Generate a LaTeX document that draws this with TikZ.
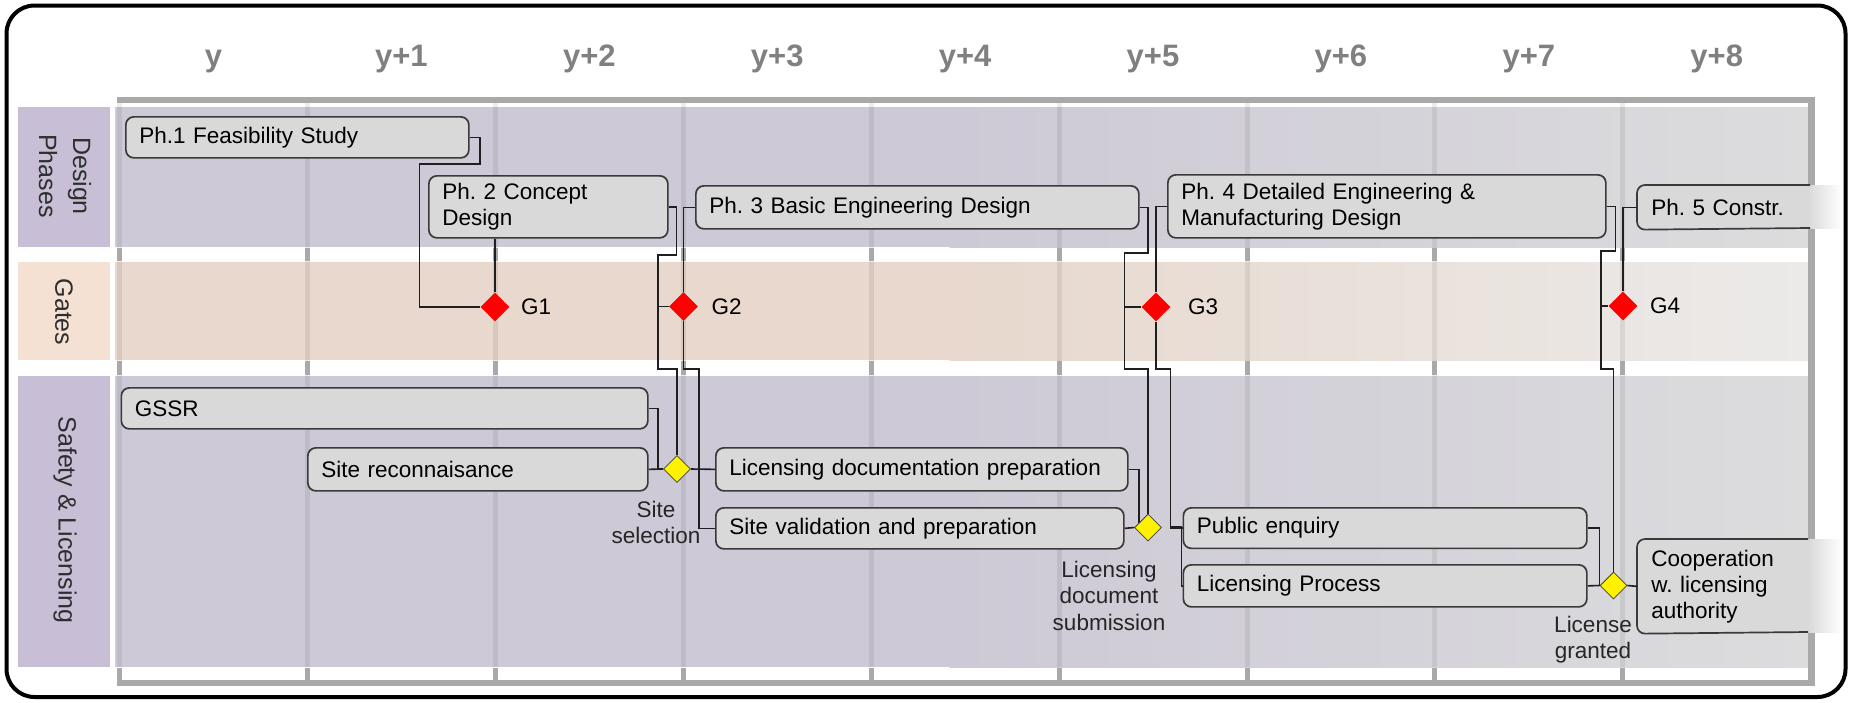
\documentclass[tikz,border=0pt]{standalone}
\usepackage{fontspec}
\setmainfont{Liberation Sans}
\usetikzlibrary{shapes.geometric,calc}
\definecolor{boxfill}{HTML}{D9D9D9}
\definecolor{boxline}{HTML}{3A3A3A}
\definecolor{laneP}{HTML}{CDC9D6}
\definecolor{lanePR}{HTML}{DCDCDD}
\definecolor{laneG}{HTML}{E8D8CD}
\definecolor{laneGR}{HTML}{EBEAE9}
\definecolor{cellP}{HTML}{C8BED6}
\definecolor{cellG}{HTML}{F5E1D3}
\definecolor{gridgray}{HTML}{A9A9A9}
\definecolor{yeargray}{HTML}{808080}
\definecolor{labeltext}{HTML}{2E2E2E}
\pgfdeclarelayer{lanes}
\pgfdeclarelayer{edges}
\pgfsetlayers{lanes,edges,main}
\frenchspacing
\begin{document}
\frenchspacing
\begin{tikzpicture}[x=1pt,y=-1pt,
  box/.style={draw=boxline, line width=1.7pt, fill=boxfill, rounded corners=8pt,
    inner xsep=13.5pt, inner ysep=0pt, align=left, anchor=north west,
    font=\fontsize{22.5}{26}\selectfont},
  fadebox/.style={box, draw=none, fill=none},
  gate/.style={shape=diamond, fill=red, draw=none, minimum width=29pt, minimum height=29pt, inner sep=0pt},
  mile/.style={shape=diamond, fill=yellow, draw=black!75, line width=0.8pt, minimum width=27pt, minimum height=27pt, inner sep=0pt},
  gatelabel/.style={anchor=west, inner sep=0pt, font=\fontsize{22.5}{26}\selectfont},
  milelabel/.style={anchor=north, inner sep=0pt, align=center, font=\fontsize{22.5}{26.5}\selectfont, text=black!85},
  year/.style={anchor=base, inner sep=0pt, font=\fontsize{31}{36}\selectfont\bfseries, text=yeargray},
  lanelabel/.style={rotate=-90, inner sep=0pt, align=center, font=\fontsize{25}{34}\selectfont, text=labeltext},
  conn/.style={draw=black!88, line width=1.6pt},
  colline/.style={draw=black, draw opacity=0.07, line width=5pt},
  tick/.style={draw=gridgray, line width=5pt},
  bar/.style={fill=gridgray}
]
\useasboundingbox (0,0) rectangle (1852,702);

% ---------- background lanes and grid ----------
\begin{pgfonlayer}{lanes}
\fill[cellP] (18,107) rectangle (110,247);
\fill[cellG] (18,262) rectangle (110,360);
\fill[cellP] (18,376) rectangle (110,667);
\fill[laneP] (115,107) rectangle (950,247);
\shade[left color=laneP, right color=lanePR] (949.5,107) rectangle (1811,247);
\fill[laneG] (115,262) rectangle (950,360);
\shade[left color=laneG, right color=laneGR] (949.5,262) rectangle (1811,360);
\fill[laneP] (115,376) rectangle (950,667);
\shade[left color=laneP, right color=lanePR] (949.5,376) rectangle (1811,667);
\foreach \i in {0,...,8} {
  \pgfmathsetmacro\cx{119.6+187.9*\i}
  \draw[colline] (\cx,103) -- (\cx,667);
  \draw[tick] (\cx,248) -- (\cx,261);
  \draw[tick] (\cx,361) -- (\cx,375);
  \draw[tick] (\cx,668) -- (\cx,683);
}
\fill[bar] (117,97) rectangle (1815,103);
\fill[bar] (117,680) rectangle (1815,686);
\fill[bar] (1808,97) rectangle (1815,686);
\end{pgfonlayer}

% ---------- frame ----------
\draw[line width=4pt, rounded corners=28pt] (6.5,5.5) rectangle (1845.5,697);

% ---------- year labels ----------
\foreach \t [count=\i from 0] in {y,y+1,y+2,y+3,y+4,y+5,y+6,y+7,y+8} {
  \node[year] (yr\i) at ({213.5+187.9*\i},66) {\t};
}

% ---------- lane labels ----------
\node[lanelabel] (ll1) at (65,176) {Design\\Phases};
\node[lanelabel] (ll2) at (64,312) {Gates};
\node[lanelabel] (ll3) at (65,520) {Safety \& Licensing};

% ---------- boxes ----------
\node[box, text width=316pt, minimum height=41pt] (ph1) at (125,116) {Ph.1 Feasibility Study};
\node[box, text width=212pt, minimum height=62pt] (ph2) at (428,175) {Ph. 2 Concept\\Design};
\node[box, text width=416pt, minimum height=43pt] (ph3) at (695,185) {Ph. 3 Basic Engineering Design};
\node[box, text width=411pt, minimum height=63pt] (ph4) at (1167,174) {Ph. 4 Detailed Engineering \&\\Manufacturing Design};
\node[fadebox, text width=178pt, minimum height=43pt] (ph5) at (1637,185) {Ph. 5 Constr.};
\node[box, text width=499.5pt, minimum height=41pt] (gssr) at (120.5,387) {GSSR};
\node[box, text width=313pt, minimum height=43pt] (sr) at (307,447) {Site reconnaisance};
\node[box, text width=385pt, minimum height=43pt] (ldp) at (715,447) {Licensing documentation preparation};
\node[box, text width=381pt, minimum height=41pt] (sv) at (715,507) {Site validation and preparation};
\node[box, text width=376.5pt, minimum height=40.5pt] (pe) at (1182.5,507) {Public enquiry};
\node[box, text width=376.5pt, minimum height=42pt] (lp) at (1182.5,564) {Licensing Process};
\node[fadebox, text width=178pt, minimum height=93pt] (coop) at (1637,539) {Cooperation\\w. licensing\\authority};

% ---------- gates and milestones ----------
\node[gate] (g1) at (495,307) {};
\node[gate] (g2) at (683.5,306.5) {};
\node[gate] (g3) at (1156,307) {};
\node[gate] (g4) at (1623,306) {};
\node[gatelabel] (g1l) at (521,307) {G1};
\node[gatelabel] (g2l) at (711.5,307) {G2};
\node[gatelabel] (g3l) at (1188,307) {G3};
\node[gatelabel] (g4l) at (1650,306) {G4};
\node[mile] (ss) at (677,469) {};
\node[mile] (lds) at (1148,527.5) {};
\node[mile] (lg) at (1613.5,585.5) {};
\node[milelabel] (ssl) at (656,500.5) {Site\\selection};
\node[milelabel] (ldsl) at (1109,560.5) {Licensing\\document\\submission};
\node[milelabel] (lgl) at (1593,615.5) {License\\granted};

% ---------- faded boxes and connectors ----------
\begin{pgfonlayer}{edges}
\fill[boxfill, rounded corners=8pt] (ph5.north west) rectangle (1825,228);
\shade[left color=boxfill, right color=white] (1808,185) rectangle (1842,228);
\draw[boxline, line width=1.7pt, rounded corners=8pt] (1810,185) -- (ph5.north west) -- (ph5.south west) -- (1810,228);
\fill[boxfill, rounded corners=8pt] (coop.north west) rectangle (1825,632);
\shade[left color=boxfill, right color=white] (1808,539) rectangle (1842,632);
\draw[boxline, line width=1.7pt, rounded corners=8pt] (1808,539) -- (coop.north west) -- (coop.south west) -- (1808,632);

\draw[conn] (ph1.east) -| (480,164) -- (419.5,164) |- (g1.west);
\draw[conn] (ph2.south -| g1) -- (g1.north);
\draw[conn] (ph2.east) -| (676.5,255) -- (658,255) |- (g2.west);
\draw[conn] (ph2.east) -| (676.5,255) -- (658,255) -- (658,369) -| (ss.north);
\draw[conn] (g2.north) |- (ph3.west);
\draw[conn] (g2.south) -- (683.5,369) -- (699,369) |- (sv.west);
\draw[conn] (gssr.east) -| (658,469) -- (ss.west);
\draw[conn] (sr.east) -- (ss.west);
\draw[conn] (ss.east) -- (ldp.west);
\draw[conn] (ph3.east) -| (1148,253) -- (1124.5,253) |- (g3.west);
\draw[conn] (ph3.east) -| (1148,253) -- (1124.5,253) -- (1124.5,369) -| (lds.north);
\draw[conn] (g3.north) |- (ph4.west);
\draw[conn] (g3.south) -- (1156,369) -- (1170.5,369) |- (pe.west);
\draw[conn] (g3.south) -- (1156,369) -- (1170.5,369) -- (1170.5,527) -- (1181.5,527) |- (lp.west);
\draw[conn] (ldp.east) -| (1139,527.5) -- (lds.west);
\draw[conn] (sv.east) -- (lds.west);
\draw[conn] (ph4.east) -| (1615.5,251) -- (1601,251) |- (g4.west);
\draw[conn] (ph4.east) -| (1615.5,251) -- (1601,251) -- (1601,369) -| (lg.north);
\draw[conn] (g4.north) |- (ph5.west);
\draw[conn] (pe.east) -| (lg.west);
\draw[conn] (lp.east) -- (lg.west);
\draw[conn] (lg.east) -- (coop.west);
\end{pgfonlayer}
\end{tikzpicture}
\end{document}
